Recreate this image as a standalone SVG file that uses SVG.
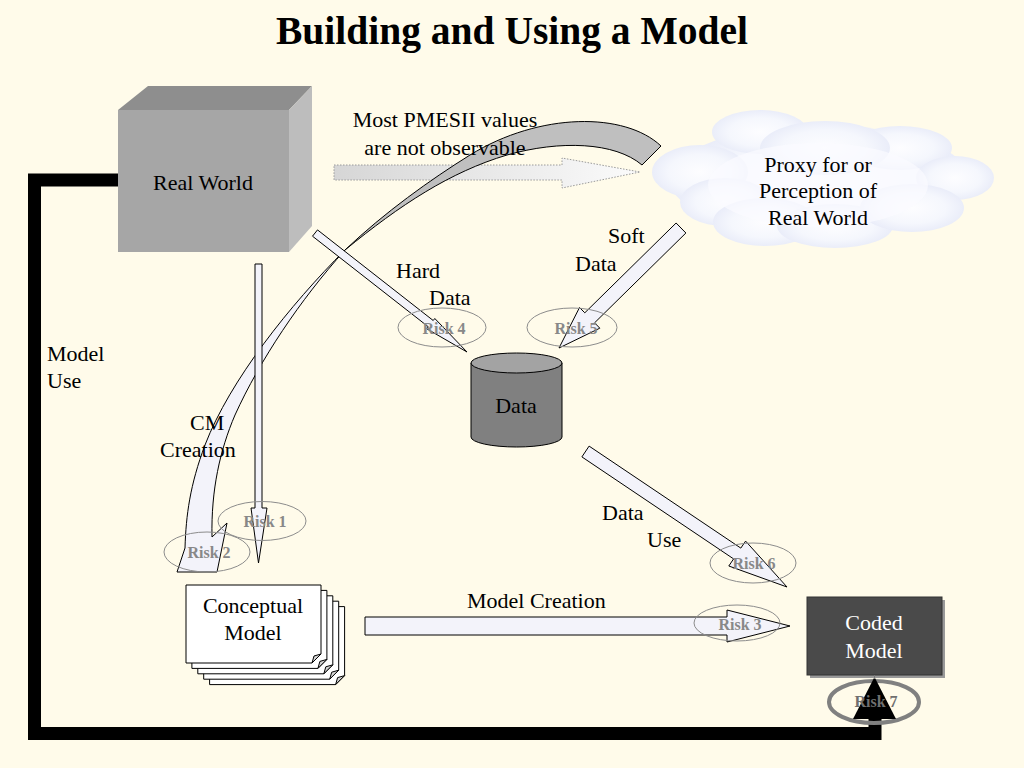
<svg xmlns="http://www.w3.org/2000/svg" width="1024" height="768" viewBox="0 0 1024 768">
<defs>
<style>
.lbl{font-family:"Liberation Serif","Times New Roman",serif;font-size:22px;fill:#000}
.mid{text-anchor:middle}
.risk{font-family:"Liberation Serif","Times New Roman",serif;font-size:16px;font-weight:bold;fill:#888;text-anchor:middle}
.rell{fill:none;stroke:#8c8c8c;stroke-width:1}
.arr{fill:#f3f3fa;stroke:#000;stroke-width:1;stroke-linejoin:miter}
.docb{fill:#fff;stroke:#000;stroke-width:1}
.cl{fill:url(#cg)}
</style>
<radialGradient id="cg" cx="50%" cy="50%" r="50%">
<stop offset="0" stop-color="#fdfdff"/>
<stop offset="0.65" stop-color="#f5f7fd"/>
<stop offset="1" stop-color="#eaedf9"/>
</radialGradient>
<linearGradient id="pg" x1="0" y1="0" x2="1" y2="0">
<stop offset="0" stop-color="#d6d6d6"/>
<stop offset="1" stop-color="#fbfbfb"/>
</linearGradient>
<g id="doc">
<path class="docb" d="M0,0 H135 V69 L126,78 H0 Z"/>
<path d="M126,78 L128,71 L135,69 Z" fill="#d4d4d4" stroke="#000" stroke-width="1"/>
</g>
</defs>
<rect width="1024" height="768" fill="#fffbea"/>
<text x="512" y="44" class="mid" font-family="Liberation Serif, Times New Roman, serif" font-size="39.5" font-weight="bold">Building and Using a Model</text>

<g id="real-world">
<rect x="118" y="110" width="171" height="142" fill="#a6a6a6"/>
<polygon points="118,110 148,86 312,86 289,110" fill="#8e8e8e"/>
<polygon points="289,110 312,86 312,226 289,252" fill="#bdbdbd"/>
<text x="203" y="190" class="lbl mid">Real World</text>
</g>

<g id="proxy-cloud">
<ellipse class="cl" cx="820" cy="180" rx="150" ry="55"/>
<ellipse class="cl" cx="760" cy="132" rx="48" ry="22"/>
<ellipse class="cl" cx="900" cy="148" rx="52" ry="22"/>
<ellipse class="cl" cx="825" cy="148" rx="65" ry="27"/>
<ellipse class="cl" cx="700" cy="172" rx="48" ry="27"/>
<ellipse class="cl" cx="955" cy="178" rx="39" ry="22"/>
<ellipse class="cl" cx="725" cy="202" rx="45" ry="24"/>
<ellipse class="cl" cx="765" cy="222" rx="52" ry="24"/>
<ellipse class="cl" cx="835" cy="226" rx="58" ry="22"/>
<ellipse class="cl" cx="912" cy="208" rx="52" ry="24"/>
<ellipse cx="818" cy="185" rx="110" ry="42" fill="#fbfbff" opacity="0.7"/>
<text x="818" y="172" class="lbl mid">Proxy for or</text>
<text x="818" y="198" class="lbl mid">Perception of</text>
<text x="818" y="225" class="lbl mid">Real World</text>
</g>

<g id="data">
<path d="M471,363 V437 A45.5,10 0 0 0 562,437 V363 Z" fill="#808080" stroke="#000" stroke-width="1"/>
<ellipse cx="516.5" cy="363" rx="45.5" ry="10" fill="#a3a3a3" stroke="#000" stroke-width="1"/>
<text x="516" y="413" class="lbl mid">Data</text>
</g>

<g id="conceptual-model">
<use href="#doc" x="209.6" y="606.6"/>
<use href="#doc" x="203.7" y="601.2"/>
<use href="#doc" x="197.8" y="595.8"/>
<use href="#doc" x="191.9" y="590.4"/>
<use href="#doc" x="186" y="585"/>
<text x="253" y="613" class="lbl mid">Conceptual</text>
<text x="253" y="640" class="lbl mid">Model</text>
</g>

<g id="coded-model">
<rect x="810" y="600" width="135" height="78" fill="#999"/>
<rect x="807" y="597" width="135" height="78" fill="#4a4a4a" stroke="#333" stroke-width="1"/>
<text x="874" y="630" class="lbl mid" style="fill:#fff">Coded</text>
<text x="874" y="658" class="lbl mid" style="fill:#fff">Model</text>
</g>

<g id="connectors">
<polygon points="334,165 562,165 562,158 640,172 562,188 562,180 334,180" fill="url(#pg)" stroke="#9a9a9a" stroke-width="1" stroke-dasharray="1.5,1.5"/>
<path d="M661,146 C625,112 540,112 470,155 C430,180 385,212 345,250 C400,205 450,172 507,155 C560,140 615,142 642,165 Z" fill="#bfbfbf" stroke="#000" stroke-width="1"/>
<path class="arr" d="M345,250 C290,305 230,380 205,445 C190,485 186,515 185,548 L177,572 L217,572 L227,523 L212,537 C211,490 220,450 235,415 C260,360 300,300 345,250 Z"/>
<polygon class="arr" points="312.5,236.2 428.3,326.8 426.8,328.8 467,352 434.8,318.5 433.2,320.5 317.5,229.9"/>
<polygon class="arr" points="676.1,223 584.8,312.8 579.5,307.5 559,348 599.8,328.2 594.6,322.8 685.9,233"/>
<polygon class="arr" points="255,264 262,264 262,508 267,508 258.5,563 251,508 255,508"/>
<polygon class="arr" points="581.9,456.9 733.6,558.9 728.8,566 787,587 745.6,541.1 740.8,548.1 589.1,446.1"/>
<polygon class="arr" points="365,617 727,617 727,610 790,626 727,642 727,635 365,635"/>
<path d="M118,180 H34.5 V733.5 H875 V715" fill="none" stroke="#000" stroke-width="13" stroke-linejoin="miter"/>
<ellipse cx="874" cy="702" rx="45" ry="21" fill="none" stroke="#808080" stroke-width="4"/>
<polygon points="853,719 874.5,677 896,719" fill="#000"/>
<line x1="874.5" y1="675" x2="874.5" y2="679" stroke="#777" stroke-width="1"/>
<text x="445" y="127" class="lbl mid">Most PMESII values</text>
<text x="445" y="155" class="lbl mid">are not observable</text>
<text x="608" y="243" class="lbl">Soft</text>
<text x="575" y="271" class="lbl">Data</text>
<text x="396" y="278" class="lbl">Hard</text>
<text x="429" y="305" class="lbl">Data</text>
<text x="190" y="430" class="lbl">CM</text>
<text x="160" y="457" class="lbl">Creation</text>
<text x="47" y="361" class="lbl">Model</text>
<text x="47" y="388" class="lbl">Use</text>
<text x="602" y="520" class="lbl">Data</text>
<text x="647" y="547" class="lbl">Use</text>
<text x="467" y="608" class="lbl">Model Creation</text>
</g>

<g id="risks">
<ellipse class="rell" cx="442" cy="327.5" rx="44" ry="19.5"/>
<text x="444" y="334" class="risk">Risk 4</text>
<ellipse class="rell" cx="572" cy="327.5" rx="45" ry="19.5"/>
<text x="576" y="334" class="risk">Risk 5</text>
<ellipse class="rell" cx="262" cy="521" rx="44" ry="19.5"/>
<text x="265" y="527" class="risk">Risk 1</text>
<ellipse class="rell" cx="207" cy="552" rx="43" ry="20"/>
<text x="209" y="558" class="risk">Risk 2</text>
<ellipse class="rell" cx="753" cy="563" rx="43" ry="20"/>
<text x="754" y="569" class="risk">Risk 6</text>
<ellipse class="rell" cx="737" cy="623" rx="43" ry="18"/>
<text x="740" y="630" class="risk">Risk 3</text>
<text x="876" y="707" class="risk" style="fill:#6f6f6f">Risk 7</text>
</g>
</svg>
